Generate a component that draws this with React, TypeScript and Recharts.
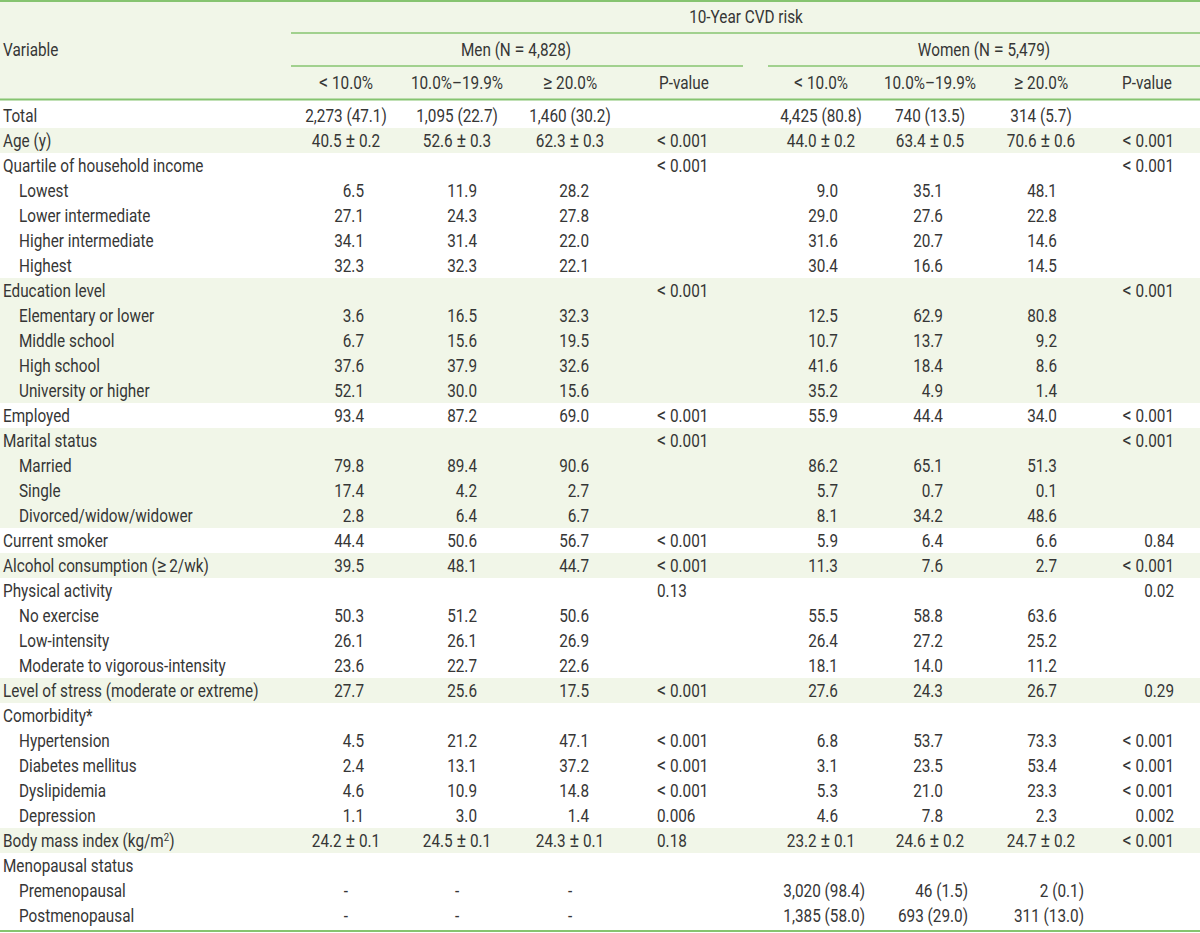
import React from 'react';
import { ScatterChart, Scatter, XAxis, YAxis, ReferenceArea, ReferenceLine } from 'recharts';

const T = ' ';

const rowLabels = [
  'Total', 'Age (y)', 'Quartile of household income', 'Lowest', 'Lower intermediate', 'Higher intermediate', 'Highest',
  'Education level', 'Elementary or lower', 'Middle school', 'High school', 'University or higher',
  'Employed', 'Marital status', 'Married', 'Single', 'Divorced/widow/widower',
  'Current smoker', 'Alcohol consumption (≥\u20092/wk)', 'Physical activity', 'No exercise', 'Low-intensity',
  'Moderate to vigorous-intensity', 'Level of stress (moderate or extreme)', 'Comorbidity*', 'Hypertension',
  'Diabetes mellitus', 'Dyslipidemia', 'Depression', 'Body mass index (kg/m²)', 'Menopausal status',
  'Premenopausal', 'Postmenopausal',
];
const rowIndent = [0, 0, 0, 1, 1, 1, 1, 0, 1, 1, 1, 1, 0, 0, 1, 1, 1, 0, 0, 0, 1, 1, 1, 0, 0, 1, 1, 1, 1, 0, 0, 1, 1];
const bandRows = [1, 7, 8, 9, 10, 11, 13, 14, 15, 16, 18, 23, 29];
const centeredRows = [0, 1, 29];
const rightCompositeRows = [31, 32];

const pm = (a: string, b: string) => `${a}${T}±${T}${b}`;
const LT = `<${T}0.001`;

const menLow = ['2,273 (47.1)', pm('40.5', '0.2'), '', '6.5', '27.1', '34.1', '32.3', '', '3.6', '6.7', '37.6', '52.1', '93.4', '', '79.8', '17.4', '2.8', '44.4', '39.5', '', '50.3', '26.1', '23.6', '27.7', '', '4.5', '2.4', '4.6', '1.1', pm('24.2', '0.1'), '', '-', '-'];
const menMid = ['1,095 (22.7)', pm('52.6', '0.3'), '', '11.9', '24.3', '31.4', '32.3', '', '16.5', '15.6', '37.9', '30.0', '87.2', '', '89.4', '4.2', '6.4', '50.6', '48.1', '', '51.2', '26.1', '22.7', '25.6', '', '21.2', '13.1', '10.9', '3.0', pm('24.5', '0.1'), '', '-', '-'];
const menHigh = ['1,460 (30.2)', pm('62.3', '0.3'), '', '28.2', '27.8', '22.0', '22.1', '', '32.3', '19.5', '32.6', '15.6', '69.0', '', '90.6', '2.7', '6.7', '56.7', '44.7', '', '50.6', '26.9', '22.6', '17.5', '', '47.1', '37.2', '14.8', '1.4', pm('24.3', '0.1'), '', '-', '-'];
const menP = ['', LT, LT, '', '', '', '', LT, '', '', '', '', LT, LT, '', '', '', LT, LT, '0.13', '', '', '', LT, '', LT, LT, LT, '0.006', '0.18', '', '', ''];
const womenLow = ['4,425 (80.8)', pm('44.0', '0.2'), '', '9.0', '29.0', '31.6', '30.4', '', '12.5', '10.7', '41.6', '35.2', '55.9', '', '86.2', '5.7', '8.1', '5.9', '11.3', '', '55.5', '26.4', '18.1', '27.6', '', '6.8', '3.1', '5.3', '4.6', pm('23.2', '0.1'), '', '3,020 (98.4)', '1,385 (58.0)'];
const womenMid = ['740 (13.5)', pm('63.4', '0.5'), '', '35.1', '27.6', '20.7', '16.6', '', '62.9', '13.7', '18.4', '4.9', '44.4', '', '65.1', '0.7', '34.2', '6.4', '7.6', '', '58.8', '27.2', '14.0', '24.3', '', '53.7', '23.5', '21.0', '7.8', pm('24.6', '0.2'), '', '46 (1.5)', '693 (29.0)'];
const womenHigh = ['314 (5.7)', pm('70.6', '0.6'), '', '48.1', '22.8', '14.6', '14.5', '', '80.8', '9.2', '8.6', '1.4', '34.0', '', '51.3', '0.1', '48.6', '6.6', '2.7', '', '63.6', '25.2', '11.2', '26.7', '', '73.3', '53.4', '23.3', '2.3', pm('24.7', '0.2'), '', '2 (0.1)', '311 (13.0)'];
const womenP = ['', LT, LT, '', '', '', '', LT, '', '', '', '', LT, LT, '', '', '', '0.84', LT, '0.02', '', '', '', '0.29', '', LT, LT, LT, '0.002', LT, '', '', ''];

const headerTitle = '10-Year CVD risk';
const groupLabels = [`Men (N${T}=${T}4,828)`, `Women (N${T}=${T}5,479)`];
const columnHeaders = [`<${T}10.0%`, '10.0%–19.9%', `≥${T}20.0%`, 'P-value', `<${T}10.0%`, '10.0%–19.9%', `≥${T}20.0%`, 'P-value'];
const variableHeader = 'Variable';

// layout constants (pixel-space x, row-space y)
const W = 1200;
const H = 933;
const Y0 = -4.62;
const Y1 = Y0 + H / 25;
const FONT = "Roboto, 'Liberation Sans', sans-serif";
const FS = 17.5;
const SX = 0.875;
const TEXT = '#363636';
const GREEN = '#86c470';
const BAND = '#f1f6e8';

type Cell = { x: number; y: number; text: string; anchor: 'start' | 'middle' | 'end' };

const columns = [
  { values: menLow, center: 346, right: 364, compRight: 390, kind: 'v' },
  { values: menMid, center: 457, right: 477, compRight: 502, kind: 'v' },
  { values: menHigh, center: 570, right: 589, compRight: 616, kind: 'v' },
  { values: menP, center: 684, start: 657, kind: 'pstart' },
  { values: womenLow, center: 821, right: 838, compRight: 865, kind: 'v' },
  { values: womenMid, center: 930, right: 943, compRight: 968, kind: 'v' },
  { values: womenHigh, center: 1041, right: 1057, compRight: 1084, kind: 'v' },
  { values: womenP, center: 1147, end: 1174, kind: 'pend' },
];

const cells: Cell[] = [];
rowLabels.forEach((label, i) => {
  cells.push({ x: rowIndent[i] ? 19 : 3, y: i, text: label, anchor: 'start' });
});
columns.forEach((col: any) => {
  col.values.forEach((v: string, i: number) => {
    if (!v) return;
    if (col.kind === 'pstart') cells.push({ x: col.start, y: i, text: v, anchor: 'start' });
    else if (col.kind === 'pend') cells.push({ x: col.end, y: i, text: v, anchor: 'end' });
    else if (v === '-' || centeredRows.includes(i)) cells.push({ x: col.center, y: i, text: v, anchor: 'middle' });
    else if (rightCompositeRows.includes(i)) cells.push({ x: col.compRight, y: i, text: v, anchor: 'end' });
    else cells.push({ x: col.right, y: i, text: v, anchor: 'end' });
  });
});

const headerCells: Cell[] = [
  { x: 3, y: -2.64, text: variableHeader, anchor: 'start' },
  { x: 746, y: -3.96, text: headerTitle, anchor: 'middle' },
  { x: 516, y: -2.64, text: groupLabels[0], anchor: 'middle' },
  { x: 984, y: -2.64, text: groupLabels[1], anchor: 'middle' },
  ...columnHeaders.map((t, k) => ({ x: columns[k].center, y: -1.32, text: t, anchor: 'middle' as const })),
];

const SYM = /([<≥±=²])/;

const renderParts = (t: string) => {
  const parts = t.split(SYM).filter((p) => p !== '');
  let raised = false;
  return parts.map((p, k) => {
    if (p === '²') {
      raised = true;
      return <tspan key={k} fontSize={11} dy={-6}>2</tspan>;
    }
    const dy = raised ? 6 : undefined;
    raised = false;
    if (SYM.test(p)) return <tspan key={k} dy={dy} fontSize={FS * 1.18}>{p}</tspan>;
    return <tspan key={k} dy={dy}>{p}</tspan>;
  });
};

const TextShape = (props: any) => {
  const { cx, cy, payload } = props;
  if (cx == null || cy == null) return null;
  return (
    <text
      x={cx}
      y={cy}
      dy={6.4}
      transform={`translate(${cx} 0) scale(${SX} 1) translate(${-cx} 0)`}
      textAnchor={payload.anchor}
      fontFamily={FONT}
      fontWeight={400}
      fontSize={FS}
      fill={TEXT}
      style={{ whiteSpace: 'pre' }}
    >
      {renderParts(payload.text)}
    </text>
  );
};

export default function App() {
  return (
    <div style={{ width: W, height: H, background: '#fff' }}>
      <style>{'body{margin:0;}'}</style>
      <ScatterChart width={W} height={H} margin={{ top: 0, right: 0, bottom: 0, left: 0 }}>
        <XAxis type="number" dataKey="x" domain={[0, W]} hide allowDataOverflow />
        <YAxis type="number" dataKey="y" domain={[Y0, Y1]} reversed hide allowDataOverflow />
        <ReferenceArea x1={0} x2={W} y1={Y0} y2={-0.64} fill={BAND} fillOpacity={1} strokeWidth={0} />
        {bandRows.map((r) => (
          <ReferenceArea key={r} x1={0} x2={W} y1={r - 0.5} y2={r + 0.5} fill={BAND} fillOpacity={1} strokeWidth={0} />
        ))}
        <ReferenceLine segment={[{ x: 0, y: -4.585 }, { x: W, y: -4.585 }]} stroke={GREEN} strokeWidth={2} />
        <ReferenceLine segment={[{ x: 291, y: -3.3 }, { x: W, y: -3.3 }]} stroke={GREEN} strokeWidth={1.5} />
        <ReferenceLine segment={[{ x: 291, y: -1.98 }, { x: 743, y: -1.98 }]} stroke={GREEN} strokeWidth={1.5} />
        <ReferenceLine segment={[{ x: 768, y: -1.98 }, { x: W, y: -1.98 }]} stroke={GREEN} strokeWidth={1.5} />
        <ReferenceLine segment={[{ x: 0, y: -0.64 }, { x: W, y: -0.64 }]} stroke={GREEN} strokeWidth={2} />
        <ReferenceLine segment={[{ x: 0, y: 32.62 }, { x: W, y: 32.62 }]} stroke={GREEN} strokeWidth={2} />
        <Scatter data={headerCells} shape={TextShape} isAnimationActive={false} />
        <Scatter data={cells} shape={TextShape} isAnimationActive={false} />
      </ScatterChart>
    </div>
  );
}
